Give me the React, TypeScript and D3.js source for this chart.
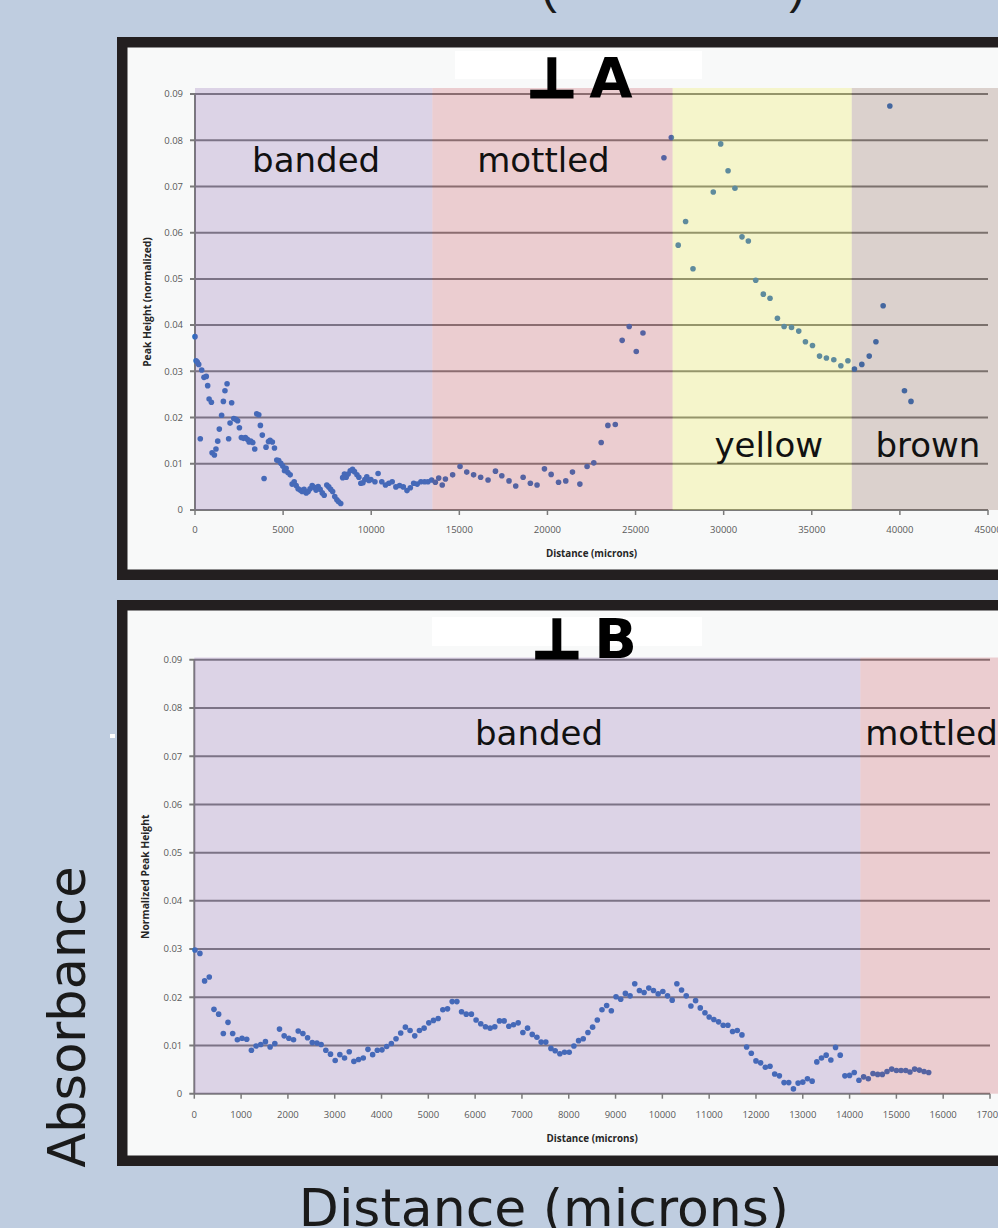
import React from "react";
import * as d3 from "d3";

// ---------- data ----------
const aDistance = [0,60,130,210,300,380,510,640,720,800,930,970,1100,1190,1290,1380,1510,1610,1700,1820,1910,1990,2080,2200,2330,2420,2520,2630,2750,2860,2970,3070,3160,3280,3390,3500,3620,3710,3820,3920,4030,4170,4260,4390,4510,4640,4750,4870,4980,5080,5170,5270,5400,5510,5630,5740,5850,5970,6080,6190,6310,6420,6530,6650,6760,6870,6990,7100,7220,7330,7480,7590,7700,7810,7930,8050,8150,8270,8380,8480,8580,8690,8810,8940,9050,9190,9300,9410,9530,9640,9750,9870,9980,10210,10390,10600,10810,11000,11190,11400,11610,11820,12030,12220,12410,12610,12820,13030,13220,13430,13640,13830,14030,14210,14620,15040,15420,15810,16210,16630,17050,17410,17820,18200,18620,19030,19410,19830,20210,20630,21040,21420,21840,22250,22630,23050,23430,23850,24240,24640,25040,25420,26610,27030,27420,27840,28260,29410,29830,30250,30640,31040,31400,31820,32250,32630,33050,33430,33850,34260,34640,35040,35440,35830,36250,36650,37050,37420,37840,38260,38640,39050,39430,40260,40630];
const aHeight = [0.0375,0.0323,0.032,0.0315,0.0154,0.0303,0.0287,0.0289,0.0269,0.024,0.0233,0.0124,0.0119,0.0132,0.0149,0.0175,0.0205,0.0235,0.0258,0.0273,0.0154,0.0188,0.0232,0.0198,0.0196,0.0193,0.0178,0.0157,0.0155,0.0157,0.0153,0.0147,0.0149,0.0146,0.0132,0.0208,0.0206,0.0183,0.0162,0.0068,0.0136,0.0148,0.0151,0.0147,0.0134,0.0108,0.0107,0.0101,0.0095,0.0085,0.009,0.0081,0.0076,0.0056,0.0061,0.0053,0.0046,0.0043,0.004,0.0045,0.0037,0.004,0.0046,0.0053,0.0049,0.0043,0.0051,0.0045,0.0037,0.0032,0.0054,0.005,0.0045,0.004,0.0029,0.0022,0.0018,0.0014,0.007,0.0078,0.0071,0.0078,0.0085,0.0088,0.0083,0.0076,0.0071,0.0058,0.0059,0.0066,0.0072,0.0064,0.0066,0.0061,0.0079,0.0061,0.0054,0.0058,0.0061,0.005,0.0053,0.005,0.0042,0.0048,0.0058,0.0056,0.0061,0.0061,0.0061,0.0065,0.006,0.0069,0.0054,0.0067,0.0076,0.0094,0.0082,0.0076,0.0071,0.0065,0.0084,0.0074,0.0063,0.0052,0.0071,0.0058,0.0054,0.0089,0.0077,0.006,0.0063,0.0082,0.0056,0.0094,0.0102,0.0146,0.0183,0.0185,0.0367,0.0397,0.0343,0.0383,0.0762,0.0806,0.0573,0.0624,0.0522,0.0688,0.0792,0.0734,0.0696,0.0591,0.0582,0.0497,0.0467,0.0458,0.0415,0.0397,0.0395,0.0387,0.0364,0.0356,0.0333,0.0329,0.0325,0.0312,0.0323,0.0305,0.0315,0.0333,0.0364,0.0442,0.0874,0.0258,0.0235];

const bDistance = [15,120,220,320,420,520,620,720,820,920,1020,1120,1220,1320,1420,1520,1620,1720,1820,1920,2020,2120,2220,2320,2420,2520,2620,2710,2810,2910,3010,3110,3210,3310,3410,3510,3610,3710,3810,3910,4010,4110,4210,4310,4410,4510,4610,4710,4810,4910,5010,5110,5210,5310,5410,5510,5610,5710,5810,5920,6020,6120,6220,6320,6420,6520,6620,6720,6820,6920,7020,7120,7220,7320,7410,7510,7620,7710,7810,7910,8010,8110,8210,8310,8410,8510,8610,8710,8810,8910,9010,9110,9210,9310,9410,9510,9610,9710,9810,9910,10010,10110,10210,10310,10410,10510,10610,10710,10810,10910,11000,11100,11200,11300,11400,11500,11600,11700,11800,11900,12000,12100,12200,12300,12400,12500,12600,12700,12800,12900,13000,13100,13200,13300,13400,13500,13600,13700,13800,13900,14000,14100,14200,14300,14400,14500,14600,14700,14800,14900,15000,15100,15200,15290,15390,15490,15590,15690];
const bHeight = [0.0298,0.0291,0.0234,0.0242,0.0175,0.0165,0.0125,0.0148,0.0125,0.0112,0.0115,0.0113,0.009,0.0099,0.0102,0.0108,0.0097,0.0104,0.0134,0.012,0.0115,0.0112,0.013,0.0125,0.0116,0.0106,0.0105,0.0102,0.009,0.0082,0.0069,0.0081,0.0074,0.0087,0.0067,0.0071,0.0074,0.0092,0.0081,0.009,0.0091,0.0098,0.0104,0.0114,0.0126,0.0138,0.0131,0.012,0.0131,0.0136,0.0147,0.0152,0.0156,0.0174,0.0176,0.0191,0.0191,0.017,0.0165,0.0165,0.0153,0.0145,0.0139,0.0136,0.0139,0.0151,0.0151,0.014,0.0143,0.0147,0.0127,0.0136,0.0123,0.0117,0.0107,0.0107,0.0094,0.0089,0.0083,0.0086,0.0086,0.0099,0.011,0.0114,0.0127,0.0138,0.0153,0.0174,0.0183,0.0172,0.0201,0.0196,0.0208,0.0203,0.0228,0.0214,0.021,0.0219,0.0214,0.0207,0.0212,0.0203,0.0194,0.0228,0.0215,0.0203,0.0182,0.0193,0.0178,0.0168,0.0159,0.0154,0.0149,0.0142,0.0142,0.0129,0.0131,0.0122,0.0097,0.0084,0.0068,0.0064,0.0055,0.0057,0.0041,0.0037,0.0023,0.0023,0.001,0.0022,0.0024,0.0031,0.0026,0.0066,0.0074,0.008,0.007,0.0096,0.008,0.0037,0.0038,0.0044,0.0028,0.0035,0.0031,0.0042,0.004,0.004,0.0046,0.0051,0.0048,0.0048,0.0048,0.0045,0.0051,0.0049,0.0046,0.0044];

const yTicks = [0, 0.01, 0.02, 0.03, 0.04, 0.05, 0.06, 0.07, 0.08, 0.09];
const aXTicks = [0, 5000, 10000, 15000, 20000, 25000, 30000, 35000, 40000, 45000];
const bXTicks = [0, 1000, 2000, 3000, 4000, 5000, 6000, 7000, 8000, 9000, 10000, 11000, 12000, 13000, 14000, 15000, 16000, 17000];

const aZones = ["banded", "mottled", "yellow", "brown"];
const aZoneEdges = [0, 13470, 27100, 37270, 46000];
const bZones = ["banded", "mottled"];
const bZoneEdges = [0, 14230, 18000];

// ---------- styling / layout ----------
const zoneColor: Record<string, string> = {
  banded: "#8262a6",
  mottled: "#b84c57",
  yellow: "#dbdb45",
  brown: "#7e5b4d",
};
const zoneOpacity = 0.28;
const POINT = "#2f6cc0";
const GRID = "#7a7a7a";
const TICKTXT = "#595959";
const FRAME = "#231f20";
const BG = "#bfcde0";

const panelA = {
  frame: { x: 117, y: 37, w: 1000, h: 543, t: 10.5 },
  left: 195, right: 988, top: 94, bottom: 510, bandTop: 88, xMax: 45000,
  xTicks: aXTicks, zones: aZones, edges: aZoneEdges,
  dist: aDistance, height: aHeight,
  labels: [
    { x: 6875, y: 0.0732 }, { x: 19770, y: 0.0732 },
    { x: 32560, y: 0.0115 }, { x: 41590, y: 0.0115 },
  ],
  mark: "⊥", letter: "A", titleBox: { x: 455, y: 51, w: 247, h: 28 }, titleX: 530, titleY: 97,
  yTitle: "Peak Height (normalized)", yTitleX: 151, xTitleY: 557, xTickY: 533,
};
const panelB = {
  frame: { x: 117, y: 600, w: 1000, h: 566, t: 10.5 },
  left: 194.3, right: 990, top: 659.8, bottom: 1093.7, bandTop: 657.5, xMax: 17000,
  xTicks: bXTicks, zones: bZones, edges: bZoneEdges,
  dist: bDistance, height: bHeight,
  labels: [{ x: 7365, y: 0.0723 }, { x: 15750, y: 0.0723 }],
  mark: "⊥", letter: "B", titleBox: { x: 432, y: 617, w: 270, h: 29 }, titleX: 535, titleY: 658,
  yTitle: "Normalized Peak Height", yTitleX: 149, xTitleY: 1142, xTickY: 1118,
};

function Panel({ p }: { p: typeof panelA }) {
  const x = d3.scaleLinear().domain([0, p.xMax]).range([p.left, p.right]);
  const y = d3.scaleLinear().domain([0, 0.09]).range([p.bottom, p.top]);
  const f = p.frame;
  const cy = (p.top + p.bottom) / 2;
  return (
    <g>
      <rect x={f.x} y={f.y} width={f.w} height={f.h} fill={FRAME} />
      <rect x={f.x + f.t} y={f.y + f.t} width={f.w - 2 * f.t} height={f.h - 2 * f.t} fill="#f8f9f9" />
      {/* plot base */}
      <rect x={p.left} y={p.bandTop} width={998 - p.left} height={p.bottom - p.bandTop} fill="#ffffff" />
      {/* gridlines */}
      {yTicks.map((t) => (
        <line key={"g" + t} x1={p.left - 5} x2={p.right} y1={y(t)} y2={y(t)} stroke={GRID} strokeWidth={2} />
      ))}
      <line x1={p.left} x2={p.left} y1={p.top} y2={p.bottom} stroke={GRID} strokeWidth={2} />
      {p.xTicks.map((t) => (
        <line key={"xt" + t} x1={x(t)} x2={x(t)} y1={p.bottom} y2={p.bottom + 5} stroke={GRID} strokeWidth={1.5} />
      ))}
      {/* points */}
      {p.dist.map((d, i) => (
        <circle key={"p" + i} cx={x(d)} cy={y(p.height[i])} r={2.8} fill={POINT} />
      ))}
      {/* zone overlays */}
      {p.zones.map((z, i) => {
        const x0 = x(p.edges[i]);
        const x1 = Math.min(998, x(p.edges[i + 1]));
        return (
          <rect key={"z" + z} x={x0} y={p.bandTop} width={Math.max(0, x1 - x0)} height={p.bottom - p.bandTop}
            fill={zoneColor[z]} fillOpacity={zoneOpacity} />
        );
      })}
      {/* tick labels */}
      {yTicks.map((t) => (
        <text key={"yl" + t} x={p.left - 12} y={y(t)} dy="0.35em" textAnchor="end"
          fontFamily="Open Sans" fontSize={9.5} fill={TICKTXT}>{t === 0 ? "0" : t.toFixed(2)}</text>
      ))}
      {p.xTicks.map((t) => (
        <text key={"xl" + t} x={x(t)} y={p.xTickY} textAnchor="middle"
          fontFamily="Open Sans" fontSize={9.5} fill={TICKTXT}>{String(t)}</text>
      ))}
      <text x={(p.left + p.right) / 2} y={p.xTitleY} textAnchor="middle" fontFamily="Open Sans"
        fontWeight="bold" fontSize={9.8} fill="#262626">Distance (microns)</text>
      <text transform={`translate(${p.yTitleX},${cy}) rotate(-90)`} textAnchor="middle" fontFamily="Open Sans"
        fontWeight="bold" fontSize={10.3} fill="#262626">{p.yTitle}</text>
      {/* zone labels */}
      {p.zones.map((z, i) => (
        <text key={"zl" + z} x={x(p.labels[i].x)} y={y(p.labels[i].y)} textAnchor="middle"
          fontFamily="DejaVu Sans" fontSize={34} fill="#111">{z}</text>
      ))}
      {/* title */}
      <rect x={p.titleBox.x} y={p.titleBox.y} width={p.titleBox.w} height={p.titleBox.h} fill="#ffffff" />
      <text x={p.titleX} y={p.titleY} fontFamily="DejaVu Sans" fontWeight="bold" fontSize={54} fill="#000">
        <tspan stroke="#000" strokeWidth={3.2} dx={-3}>{p.mark}</tspan>
        <tspan dx={13} fontSize={56}>{p.letter}</tspan>
      </text>
    </g>
  );
}

export default function App() {
  return (
    <svg width={998} height={1228} style={{ position: "absolute", left: 0, top: 0, display: "block" }}
      xmlns="http://www.w3.org/2000/svg">
      <rect x={0} y={0} width={998} height={1228} fill={BG} />
      <text x={805} y={-3} textAnchor="end" fontFamily="Liberation Sans" fontSize={47.5} fill="#1a1a1a">
        Peak Absorbance <tspan dy={6}>(</tspan><tspan dy={-6}>normalized</tspan><tspan dy={6}>)</tspan>
      </text>
      <Panel p={panelA} />
      <rect x={110} y={734} width={5} height={4} fill="#ffffff" />
      <Panel p={panelB} />
      <text transform="translate(85,1017) rotate(-90)" textAnchor="middle" fontFamily="DejaVu Sans"
        fontSize={51} fill="#1a1a1a">Absorbance</text>
      <text x={544} y={1226} textAnchor="middle" fontFamily="DejaVu Sans" fontSize={52} fill="#1a1a1a">
        Distance (microns)
      </text>
    </svg>
  );
}
